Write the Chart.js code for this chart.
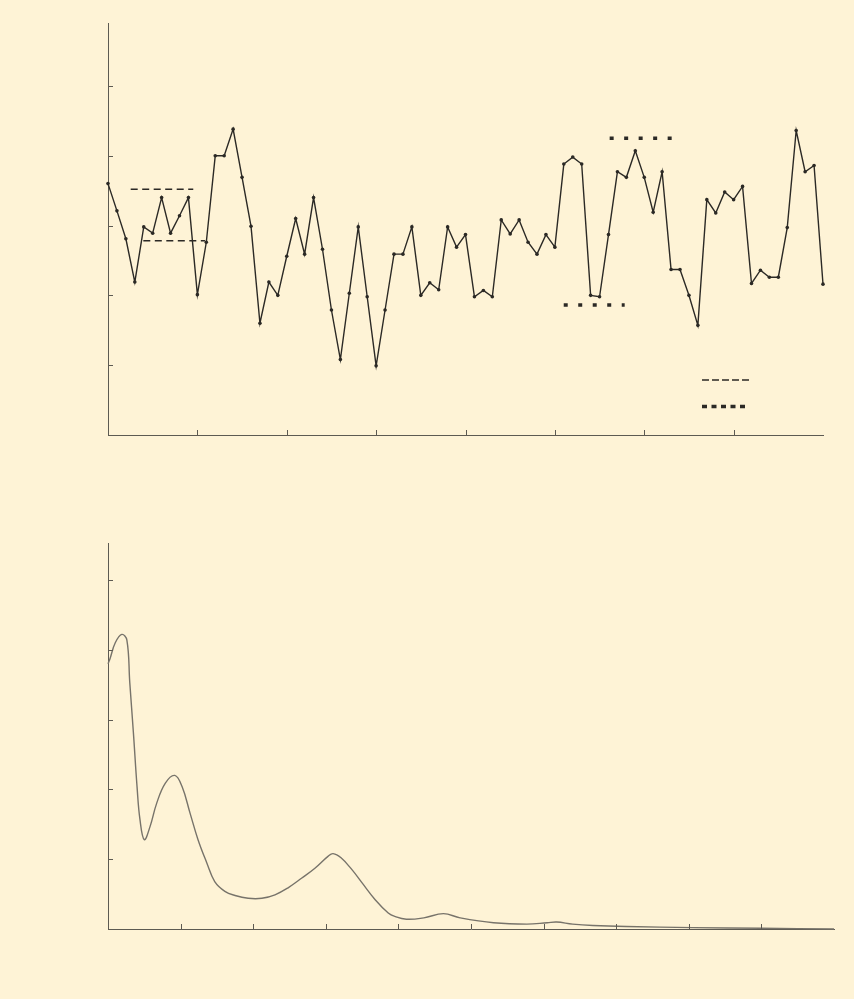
<!DOCTYPE html>
<html>
<head>
<meta charset="utf-8">
<script src="https://cdn.jsdelivr.net/npm/chart.js@4.4.1/dist/chart.umd.min.js"></script>
<style>
  html, body { margin: 0; padding: 0; background: #fef3d6; }
  body { width: 854px; height: 999px; position: relative; overflow: hidden; }
  canvas { position: absolute; left: 0; }
  #series { top: 0; }
  #spectrum { top: 500px; }
</style>
</head>
<body>
<canvas id="series" width="854" height="470"></canvas>
<canvas id="spectrum" width="854" height="470"></canvas>
<script>
// ---- time series (upper panel) ----
const sampleIndex = [
  0, 1, 2, 3, 4, 5, 6, 7, 8, 9, 10, 11, 12, 13, 14, 15, 16, 17, 18, 19,
  20, 21, 22, 23, 24, 25, 26, 27, 28, 29, 30, 31, 32, 33, 34, 35, 36, 37, 38, 39,
  40, 41, 42, 43, 44, 45, 46, 47, 48, 49, 50, 51, 52, 53, 54, 55, 56, 57, 58, 59,
  60, 61, 62, 63, 64, 65, 66, 67, 68, 69, 70, 71, 72, 73, 74, 75, 76, 77, 78, 79, 80
];
const seriesValues = [
  3.60, 3.21, 2.81, 2.19, 2.98, 2.89, 3.40, 2.89, 3.14, 3.40,
  2.01, 2.76, 4.00, 4.00, 4.38, 3.69, 2.99, 1.60, 2.19, 2.00,
  2.56, 3.10, 2.59, 3.40, 2.66, 1.79, 1.08, 2.03, 2.98, 1.98,
  0.99, 1.79, 2.59, 2.59, 2.98, 2.00, 2.18, 2.08, 2.98, 2.69,
  2.87, 1.98, 2.07, 1.98, 3.08, 2.88, 3.08, 2.76, 2.59, 2.87,
  2.69, 3.88, 3.98, 3.88, 2.00, 1.98, 2.87, 3.77, 3.69, 4.07,
  3.69, 3.19, 3.77, 2.37, 2.37, 2.00, 1.57, 3.37, 3.18, 3.48,
  3.37, 3.56, 2.17, 2.36, 2.26, 2.26, 2.97, 4.36, 3.77, 3.86,
  2.16
];
// reference levels: [start index, end index, level]
const dashedUpper = [2.54, 9.54, 3.52];
const dashedLower = [3.95, 10.85, 2.78];
const dottedUpper = [56.13, 63.07, 4.25];
const dottedLower = [50.99, 57.81, 1.86];
const seriesTicksX = [10, 20, 30, 40, 50, 60, 70];
const seriesTicksY = [1, 2, 3, 4, 5];

// ---- spectrum (lower panel) ----
const spectrumFreq = [
  0.00, 0.03, 0.10, 0.19, 0.26, 0.30, 0.35, 0.40, 0.44, 0.50,
  0.58, 0.67, 0.79, 0.92, 1.02, 1.13, 1.24, 1.36, 1.47, 1.61,
  1.75, 1.93, 2.12, 2.30, 2.48, 2.67, 2.85, 3.03, 3.10, 3.21,
  3.36, 3.50, 3.68, 3.86, 3.95, 4.11, 4.35, 4.62, 4.85, 5.31,
  5.77, 6.05, 6.18, 6.40, 6.68, 7.14, 8.06, 9.00, 10.00
];
const spectrumPower = [
  3.80, 3.88, 4.10, 4.22, 4.14, 3.53, 2.81, 2.04, 1.57, 1.28,
  1.47, 1.80, 2.09, 2.20, 2.04, 1.66, 1.28, 0.95, 0.68, 0.54,
  0.48, 0.44, 0.44, 0.49, 0.59, 0.73, 0.87, 1.04, 1.08, 1.02,
  0.85, 0.66, 0.42, 0.23, 0.18, 0.14, 0.16, 0.22, 0.16, 0.09,
  0.07, 0.09, 0.10, 0.07, 0.05, 0.035, 0.02, 0.01, 0.00
];
const spectrumTicksX = [1, 2, 3, 4, 5, 6, 7, 8, 9];
const spectrumTicksY = [1, 2, 3, 4, 5];

const ink = '#2b2925';
const axisInk = '#5d5a52';

const DASH = [7, 4.5];
const DOT = [4, 10.5];

function levelLine(spec, dash, width) {
  return {
    data: [{ x: spec[0], y: spec[2] }, { x: spec[1], y: spec[2] }],
    borderColor: ink,
    borderWidth: width,
    borderDash: dash,
    borderCapStyle: 'butt',
    pointRadius: 0,
    clip: false
  };
}

// short tick marks pointing into the plot area
const inwardTicks = {
  id: 'inwardTicks',
  afterDatasetsDraw(chart, args, opts) {
    const { ctx, chartArea: a, scales } = chart;
    ctx.save();
    ctx.strokeStyle = opts.color;
    ctx.lineWidth = 1;
    ctx.beginPath();
    opts.x.forEach(v => {
      const px = Math.round(scales.x.getPixelForValue(v)) + 0.5;
      ctx.moveTo(px, a.bottom);
      ctx.lineTo(px, a.bottom - opts.length);
    });
    opts.y.forEach(v => {
      const py = Math.round(scales.y.getPixelForValue(v)) + 0.5;
      ctx.moveTo(a.left, py);
      ctx.lineTo(a.left + opts.length, py);
    });
    ctx.stroke();
    ctx.restore();
  }
};

// line-style keys in the lower right corner of the upper panel
const styleKeys = {
  id: 'styleKeys',
  afterDatasetsDraw(chart, args, opts) {
    if (!opts.show) return;
    const { ctx, chartArea: a } = chart;
    const x0 = a.right - 121;
    ctx.save();
    ctx.strokeStyle = ink;
    ctx.lineCap = 'butt';
    ctx.lineWidth = 1.5;
    ctx.setLineDash([7, 3]);
    ctx.beginPath();
    ctx.moveTo(x0, a.bottom - 55);
    ctx.lineTo(x0 + 48, a.bottom - 55);
    ctx.stroke();
    ctx.lineWidth = 3.5;
    ctx.setLineDash([5, 4.5]);
    ctx.beginPath();
    ctx.moveTo(x0, a.bottom - 28.5);
    ctx.lineTo(x0 + 43, a.bottom - 28.5);
    ctx.stroke();
    ctx.restore();
  }
};

function axisScale(min, max) {
  return {
    type: 'linear',
    min: min,
    max: max,
    grid: { display: false, drawTicks: false },
    border: { display: true, color: axisInk, width: 1 },
    ticks: { display: false }
  };
}

const common = {
  responsive: false,
  animation: false,
  events: [],
  plugins: { legend: { display: false }, tooltip: { enabled: false } }
};

new Chart(document.getElementById('series'), {
  type: 'line',
  data: {
    datasets: [
      {
        data: sampleIndex.map((x, i) => ({ x: x, y: seriesValues[i] })),
        borderColor: ink,
        borderWidth: 1.4,
        tension: 0,
        pointRadius: 1.8,
        pointBackgroundColor: ink,
        pointBorderWidth: 0,
        clip: false
      },
      levelLine(dashedUpper, DASH, 1.5),
      levelLine(dashedLower, DASH, 1.5),
      levelLine(dottedUpper, DOT, 3.5),
      levelLine(dottedLower, DOT, 3.5)
    ]
  },
  options: Object.assign({}, common, {
    layout: { autoPadding: false, padding: { left: 108, right: 31, top: 23, bottom: 35 } },
    scales: {
      x: axisScale(0, 80),
      y: axisScale(0, 5.9)
    },
    plugins: Object.assign({}, common.plugins, {
      inwardTicks: { x: seriesTicksX, y: seriesTicksY, length: 5, color: axisInk },
      styleKeys: { show: true }
    })
  }),
  plugins: [inwardTicks, styleKeys]
});

new Chart(document.getElementById('spectrum'), {
  type: 'line',
  data: {
    datasets: [
      {
        data: spectrumFreq.map((x, i) => ({ x: x, y: spectrumPower[i] })),
        borderColor: '#77736a',
        borderWidth: 1.4,
        tension: 0.4,
        pointRadius: 0,
        clip: false
      }
    ]
  },
  options: Object.assign({}, common, {
    layout: { autoPadding: false, padding: { left: 108, right: 20, top: 43, bottom: 41 } },
    scales: {
      x: axisScale(0, 10),
      y: axisScale(0, 5.53)
    },
    plugins: Object.assign({}, common.plugins, {
      inwardTicks: { x: spectrumTicksX, y: spectrumTicksY, length: 5, color: axisInk },
      styleKeys: { show: false }
    })
  }),
  plugins: [inwardTicks, styleKeys]
});
</script>
</body>
</html>
